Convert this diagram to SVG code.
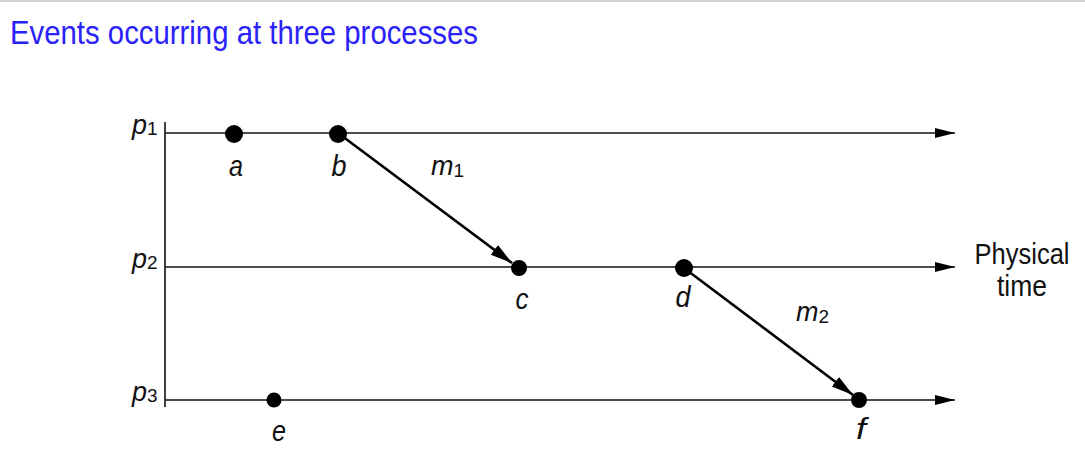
<svg xmlns="http://www.w3.org/2000/svg" width="1085" height="449" viewBox="0 0 1085 449">
<style>
.title{font-family:"Liberation Sans",Arial,sans-serif;font-size:33px;fill:#2a22f8}
.lbl{font-family:"Liberation Sans",Arial,sans-serif;font-size:30px;font-style:italic;fill:#111}
.pl{font-family:"Liberation Sans",Arial,sans-serif;font-size:27px;font-style:italic;fill:#111}
.sub{font-size:19px;font-style:normal}
.txt{font-family:"Liberation Sans",Arial,sans-serif;font-size:29px;fill:#111}
.proc{stroke:#111;stroke-width:1.6;fill:none}
.msg{stroke:#000;stroke-width:2.6;fill:none}
.dot{fill:#000}
</style>
<defs>
<marker id="ah" markerUnits="userSpaceOnUse" markerWidth="22" markerHeight="12" refX="20" refY="5" orient="auto">
<path d="M0,0 L20,5 L0,10 Z" fill="#000"/>
</marker>
<marker id="am" markerUnits="userSpaceOnUse" markerWidth="24" markerHeight="14" refX="22" refY="6" orient="auto">
<path d="M0,0 L22,6 L0,12 Z" fill="#000"/>
</marker>
</defs>
<rect x="0" y="0" width="1085" height="449" fill="#fff"/>
<line x1="0" y1="1" x2="1085" y2="1" stroke="#d0d0d0" stroke-width="2"/>
<text class="title" x="10" y="44" textLength="468" lengthAdjust="spacingAndGlyphs">Events occurring at three processes</text>

<g id="axes">
<line class="proc" x1="165" y1="122" x2="165" y2="407"/>
</g>
<g id="connectors">
<line class="proc" x1="165" y1="133" x2="955" y2="133" marker-end="url(#ah)"/>
<line class="proc" x1="165" y1="267" x2="955" y2="267" marker-end="url(#ah)"/>
<line class="proc" x1="165" y1="400" x2="955" y2="400" marker-end="url(#ah)"/>
<line class="msg" x1="338" y1="133" x2="512" y2="263" marker-end="url(#am)"/>
<line class="msg" x1="684" y1="268" x2="853" y2="395" marker-end="url(#am)"/>
<text class="pl" x="431" y="175">m<tspan class="sub" dy="2">1</tspan></text>
<text class="pl" x="796" y="321">m<tspan class="sub" dy="2">2</tspan></text>
</g>

<g id="p1"><text class="pl" x="132" y="134">p<tspan class="sub" dy="1">1</tspan></text></g>
<g id="p2"><text class="pl" x="132" y="268">p<tspan class="sub" dy="1">2</tspan></text></g>
<g id="p3"><text class="pl" x="132" y="401">p<tspan class="sub" dy="1">3</tspan></text></g>

<g id="a"><circle class="dot" cx="234" cy="134" r="9"/><text class="lbl" x="236" y="176" text-anchor="middle" textLength="14" lengthAdjust="spacingAndGlyphs">a</text></g>
<g id="b"><circle class="dot" cx="338" cy="134" r="9"/><text class="lbl" x="339" y="176" text-anchor="middle" textLength="15" lengthAdjust="spacingAndGlyphs">b</text></g>
<g id="c"><circle class="dot" cx="519" cy="268" r="8"/><text class="lbl" x="522" y="309" text-anchor="middle" textLength="13" lengthAdjust="spacingAndGlyphs">c</text></g>
<g id="d"><circle class="dot" cx="684" cy="268" r="9"/><text class="lbl" x="683" y="307" text-anchor="middle" textLength="15" lengthAdjust="spacingAndGlyphs">d</text></g>
<g id="e"><circle class="dot" cx="274" cy="400" r="7.5"/><text class="lbl" x="279" y="441" text-anchor="middle" textLength="14" lengthAdjust="spacingAndGlyphs">e</text></g>
<g id="f"><circle class="dot" cx="859" cy="400" r="8"/><text class="lbl" x="861" y="439" text-anchor="middle" textLength="10" lengthAdjust="spacingAndGlyphs">f</text></g>

<g id="physical-time">
<text class="txt" x="1022" y="264" text-anchor="middle" textLength="95" lengthAdjust="spacingAndGlyphs">Physical</text>
<text class="txt" x="1022" y="296" text-anchor="middle" textLength="50" lengthAdjust="spacingAndGlyphs">time</text>
</g>
</svg>
